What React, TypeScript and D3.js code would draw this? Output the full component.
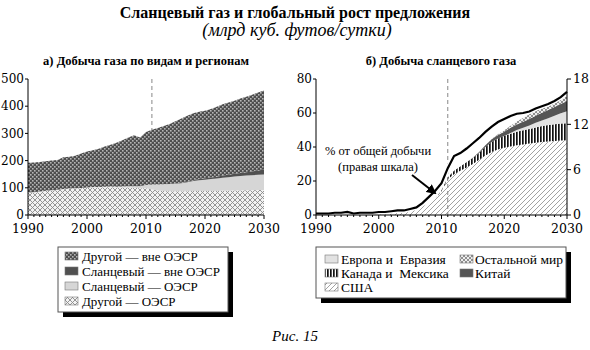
import React from 'react';
import * as d3 from 'd3';

// years 1990..2030
const years = d3.range(1990, 2031);

// panel a) stacked production by type and region, bn cf/d
const otherOecd = [82, 83, 85, 88, 90, 92, 95, 96, 97, 98, 100, 101, 101, 102, 102, 101, 101, 101, 100, 98, 98, 94, 90, 88, 87, 87, 87, 87, 88, 88, 88, 88, 88, 89, 89, 90, 90, 91, 91, 92, 92];
const shaleOecd = [1, 1, 1, 1, 1, 1, 1, 1, 1, 1, 1, 2, 2, 2, 3, 3, 4, 5, 6, 8, 12, 18, 22, 25, 27, 28, 30, 33, 37, 40, 42, 44, 46, 48, 50, 52, 53, 54, 55, 56, 57];
const shaleNonOecd = [0, 0, 0, 0, 0, 0, 0, 0, 0, 0, 0, 0, 0, 0, 0, 0, 0, 0, 0, 0, 0, 0, 0, 0, 0, 1, 1.5, 2, 3, 4, 5, 6, 7, 8, 9, 10, 11, 12.5, 14, 16, 18];
const otherNonOecd = [109, 109, 109, 109, 109, 109, 116, 117, 120, 127, 132, 135, 141, 148, 153, 162, 170, 179, 187, 179, 195, 201, 208, 214, 221, 229, 236.5, 243, 246, 248, 248, 252, 257, 262, 266, 268, 274, 277.5, 282, 286, 291];

// panel b) shale production by region, bn cf/d
const usa = [0.3, 0.3, 0.3, 0.4, 0.4, 0.5, 0.4, 0.5, 0.5, 0.6, 0.8, 0.9, 1, 1.3, 1.8, 2.5, 3.5, 5, 7, 9.5, 14, 21, 24, 26, 28, 30, 32.5, 35, 37, 38.5, 39.5, 40.3, 41, 41.5, 42, 42.5, 43, 43.3, 43.6, 43.8, 44];
const canMex = [0, 0, 0, 0, 0, 0, 0, 0, 0, 0, 0, 0, 0, 0, 0, 0, 0, 0, 0, 0, 0.5, 1, 2, 2.5, 3, 3.5, 4, 5, 6, 6.5, 7, 7.5, 8, 8.3, 8.6, 9, 9.3, 9.6, 9.8, 10, 10];
const europe = [0, 0, 0, 0, 0, 0, 0, 0, 0, 0, 0, 0, 0, 0, 0, 0, 0, 0, 0, 0, 0, 0, 0, 0, 0, 0, 0, 0, 0, 0, 0, 0.5, 1, 1.5, 2, 2.7, 3.3, 4, 5, 6, 7];
const china = [0, 0, 0, 0, 0, 0, 0, 0, 0, 0, 0, 0, 0, 0, 0, 0, 0, 0, 0, 0, 0, 0, 0, 0, 0, 0.2, 0.5, 1, 1.5, 2, 2.5, 3, 3.3, 3.6, 3.9, 4.2, 4.5, 4.8, 5.1, 5.5, 6];
const restWorld = [0, 0, 0, 0, 0, 0, 0, 0, 0, 0, 0, 0, 0, 0, 0, 0, 0, 0, 0, 0, 0, 0, 0, 0, 0, 0, 0, 0, 0.2, 0.5, 0.8, 1.2, 1.7, 2.2, 2.7, 3.2, 3.7, 4.2, 4.8, 5.4, 6];
// share of total production, % (right axis)
const sharePct = [0.2, 0.2, 0.2, 0.3, 0.3, 0.4, 0.2, 0.3, 0.3, 0.3, 0.4, 0.4, 0.5, 0.6, 0.6, 0.8, 1.0, 1.6, 2.4, 3.2, 4.2, 6.2, 7.8, 8.2, 8.8, 9.5, 10.2, 11.0, 11.7, 12.3, 12.7, 13.1, 13.4, 13.5, 13.7, 14.1, 14.4, 14.7, 15.1, 15.6, 16.3];

const xTicks = [1990, 2000, 2010, 2020, 2030];
const leftTicksA = [0, 100, 200, 300, 400, 500];
const leftTicksB = [0, 20, 40, 60, 80];
const rightTicksB = [0, 6, 12, 18];
const forecastYear = 2011;

const keysA = ['otherOecd', 'shaleOecd', 'shaleNonOecd', 'otherNonOecd'];
const fillsA = ['url(#lightCross)', '#d6d6d6', '#505050', 'url(#darkCheck)'];
const keysB = ['usa', 'canMex', 'europe', 'china', 'restWorld'];
const fillsB = ['url(#hatch)', 'url(#vstripe)', '#e2e2e2', '#555555', 'url(#fineCross)'];

const rowsA = years.map((y, i) => ({
  year: y, otherOecd: otherOecd[i], shaleOecd: shaleOecd[i], shaleNonOecd: shaleNonOecd[i], otherNonOecd: otherNonOecd[i],
}));
const rowsB = years.map((y, i) => ({
  year: y, usa: usa[i], canMex: canMex[i], europe: europe[i], china: china[i], restWorld: restWorld[i], share: sharePct[i],
}));

const serif = '"Liberation Serif", "DejaVu Serif", serif';
const tickFont = '"DejaVu Serif", serif';

function Axes({ x, y, y2, ticks, ticks2 }: any) {
  const [x0, x1] = x.range();
  const [yb, yt] = y.range();
  return (
    <g fill="none" stroke="#000" strokeWidth={1}>
      <line x1={x0} x2={x0} y1={yb} y2={yt} />
      <line x1={x0} x2={x1} y1={yb} y2={yb} />
      {ticks.map((t: number) => (
        <g key={'l' + t}>
          <line x1={x0 - 3} x2={x0} y1={y(t)} y2={y(t)} />
          <text x={x0 - 4} y={y(t)} dy="0.35em" textAnchor="end" fill="#000" stroke="none"
            fontFamily={tickFont} fontSize={12}>{t}</text>
        </g>
      ))}
      {years.map((yr) => (
        <line key={'m' + yr} x1={x(yr)} x2={x(yr)} y1={yb} y2={yb + (yr % 10 === 0 ? 4 : 2)} />
      ))}
      {xTicks.map((yr) => (
        <text key={'x' + yr} x={x(yr)} y={yb + 18} textAnchor="middle" fill="#000" stroke="none"
          fontFamily={tickFont} fontSize={12.5}>{yr}</text>
      ))}
      {y2 && (
        <g>
          <line x1={x1} x2={x1} y1={yb} y2={yt} />
          {ticks2.map((t: number) => (
            <g key={'r' + t}>
              <line x1={x1} x2={x1 + 4} y1={y2(t)} y2={y2(t)} />
              <text x={x1 + 6} y={y2(t)} dy="0.35em" textAnchor="start" fill="#000" stroke="none"
                fontFamily={tickFont} fontSize={12.5}>{t}</text>
            </g>
          ))}
        </g>
      )}
    </g>
  );
}

function Swatch({ x, y, fill }: any) {
  return <rect x={x} y={y - 4} width={13} height={8} fill={fill} stroke="#777" strokeWidth={0.6} />;
}

export default function App() {
  const W = 590, H = 350;

  // panel a
  const xA = d3.scaleLinear().domain([1990, 2030]).range([28, 264]);
  const yA = d3.scaleLinear().domain([0, 500]).range([215, 79]);
  const stackA = d3.stack<any>().keys(keysA)(rowsA);
  const areaA = d3.area<any>().x((d) => xA(d.data.year)).y0((d) => yA(d[0])).y1((d) => yA(d[1]));

  // panel b
  const xB = d3.scaleLinear().domain([1990, 2030]).range([316, 567]);
  const yB = d3.scaleLinear().domain([0, 80]).range([215, 79]);
  const yB2 = d3.scaleLinear().domain([0, 18]).range([215, 79]);
  const stackB = d3.stack<any>().keys(keysB)(rowsB);
  const areaB = d3.area<any>().x((d) => xB(d.data.year)).y0((d) => yB(d[0])).y1((d) => yB(d[1]));
  const shareLine = d3.line<any>().x((d) => xB(d.year)).y((d) => yB2(d.share));

  const legendA = [
    { label: 'Другой — вне ОЭСР', fill: fillsA[3] },
    { label: 'Сланцевый — вне ОЭСР', fill: fillsA[2] },
    { label: 'Сланцевый — ОЭСР', fill: fillsA[1] },
    { label: 'Другой — ОЭСР', fill: fillsA[0] },
  ];
  const legendB = [
    { label: 'Европа и  Евразия', fill: fillsB[2], col: 0, row: 0 },
    { label: 'Канада и  Мексика', fill: fillsB[1], col: 0, row: 1 },
    { label: 'США', fill: fillsB[0], col: 0, row: 2 },
    { label: 'Остальной мир', fill: fillsB[4], col: 1, row: 0 },
    { label: 'Китай', fill: fillsB[3], col: 1, row: 1 },
  ];

  return (
    <svg width={W} height={H} style={{ position: 'absolute', left: 0, top: 0, background: '#fff' }}>
      <defs>
        <pattern id="darkCheck" patternUnits="userSpaceOnUse" width={4} height={4}>
          <rect width={4} height={4} fill="#4d4d4d" />
          <rect x={0} y={0} width={1.6} height={1.6} fill="#b5b5b5" />
          <rect x={2} y={2} width={1.6} height={1.6} fill="#b5b5b5" />
        </pattern>
        <pattern id="lightCross" patternUnits="userSpaceOnUse" width={5} height={5}>
          <rect width={5} height={5} fill="#f2f2f2" />
          <path d="M0,0L5,5M5,0L0,5" stroke="#8a8a8a" strokeWidth={0.9} />
        </pattern>
        <pattern id="fineCross" patternUnits="userSpaceOnUse" width={4} height={4}>
          <rect width={4} height={4} fill="#eeeeee" />
          <path d="M0,0L4,4M4,0L0,4" stroke="#777" strokeWidth={0.8} />
        </pattern>
        <pattern id="hatch" patternUnits="userSpaceOnUse" width={5} height={5}>
          <rect width={5} height={5} fill="#fff" />
          <path d="M-1,1L1,-1M0,5L5,0M4,6L6,4" stroke="#8a8a8a" strokeWidth={0.8} />
        </pattern>
        <pattern id="vstripe" patternUnits="userSpaceOnUse" width={3} height={3}>
          <rect width={3} height={3} fill="#fff" />
          <rect width={1.7} height={3} fill="#111" />
        </pattern>
        <marker id="arrow" viewBox="0 0 10 10" refX={8} refY={5} markerWidth={5} markerHeight={5} orient="auto">
          <path d="M0,0L10,5L0,10z" fill="#000" />
        </marker>
      </defs>

      <text x={295} y={18} textAnchor="middle" fontFamily={serif} fontWeight="bold" fontSize={16}>
        Сланцевый газ и глобальный рост предложения
      </text>
      <text x={297} y={36} textAnchor="middle" fontFamily={serif} fontStyle="italic" fontSize={18}>
        (млрд куб. футов/сутки)
      </text>

      {/* panel a */}
      <text x={146} y={65} textAnchor="middle" fontFamily={serif} fontWeight="bold" fontSize={12.5}>
        а) Добыча газа по видам и регионам
      </text>
      <line x1={xA(forecastYear)} x2={xA(forecastYear)} y1={yA(500)} y2={yA(0)} stroke="#888" strokeDasharray="4,3" />
      {stackA.map((s, i) => (
        <path key={s.key} d={areaA(s) || ''} fill={fillsA[i]} />
      ))}
      <Axes x={xA} y={yA} ticks={leftTicksA} />

      {/* panel b */}
      <text x={441} y={65} textAnchor="middle" fontFamily={serif} fontWeight="bold" fontSize={12.5}>
        б) Добыча сланцевого газа
      </text>
      {stackB.map((s, i) => (
        <path key={s.key} d={areaB(s) || ''} fill={fillsB[i]} />
      ))}
      <line x1={xB(forecastYear)} x2={xB(forecastYear)} y1={yB(80)} y2={yB(0)} stroke="#888" strokeDasharray="4,3" />
      <path d={shareLine(rowsB) || ''} fill="none" stroke="#fff" strokeWidth={5} />
      <path d={shareLine(rowsB) || ''} fill="none" stroke="#000" strokeWidth={2.2} />
      <Axes x={xB} y={yB} y2={yB2} ticks={leftTicksB} ticks2={rightTicksB} />
      <text x={378} y={155} textAnchor="middle" fontFamily={serif} fontSize={12.5}>% от общей добычи</text>
      <text x={378} y={171} textAnchor="middle" fontFamily={serif} fontSize={12.5}>(правая шкала)</text>
      <line x1={412} y1={175} x2={435} y2={193} stroke="#000" strokeWidth={2} markerEnd="url(#arrow)" />

      {/* legend a */}
      <rect x={63} y={252} width={170} height={65} fill="#000" />
      <rect x={58} y={247} width={170} height={65} fill="#fff" stroke="#555" strokeWidth={1} />
      {legendA.map((d, i) => (
        <g key={d.label}>
          <Swatch x={65} y={256 + i * 15} fill={d.fill} />
          <text x={82} y={256 + i * 15} dy="0.35em" fontFamily={serif} fontSize={13}>{d.label}</text>
        </g>
      ))}

      {/* legend b */}
      <rect x={321} y={252} width={250} height={51} fill="#000" />
      <rect x={316} y={247} width={250} height={51} fill="#fff" stroke="#555" strokeWidth={1} />
      {legendB.map((d) => (
        <g key={d.label}>
          <Swatch x={d.col === 0 ? 325 : 460} y={259 + d.row * 14} fill={d.fill} />
          <text x={d.col === 0 ? 341 : 475} y={259 + d.row * 14} dy="0.35em" fontFamily={serif} fontSize={13.5}
            style={{ whiteSpace: 'pre' }}>{d.label}</text>
        </g>
      ))}

      <text x={295} y={341} textAnchor="middle" fontFamily={serif} fontStyle="italic" fontSize={15}>Рис. 15</text>
    </svg>
  );
}
